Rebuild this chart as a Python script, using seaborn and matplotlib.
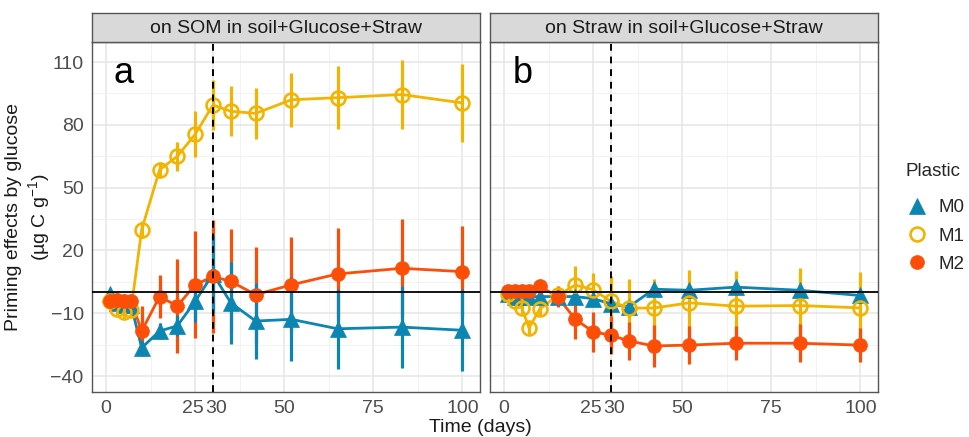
import matplotlib
matplotlib.use("Agg")
import matplotlib.pyplot as plt
import matplotlib.transforms as mtransforms
import numpy as np
import pandas as pd
import seaborn as sns
from matplotlib.lines import Line2D

# ---------------- data ----------------
days = [1, 3, 5, 7, 10, 15, 20, 25, 30, 35, 42, 52, 65, 83, 100]
plastics = ["M0", "M1", "M2"]
panel_titles = ["on SOM in soil+Glucose+Straw", "on Straw in soil+Glucose+Straw"]
panel_letters = ["a", "b"]

# panel a: priming on SOM
a_M0 = [-1, -5, -6, -6, -26.5, -18.5, -16, -4.3, 8.8, -5, -13.7, -12.9, -17.4, -16.6, -18.1]
a_M0_err = [2, 3, 3, 3, 3, 4, 5, 10, 18.5, 19.5, 18, 20, 19, 19.7, 19.6]
a_M1 = [-4, -8, -9.5, -8.5, 30, 58.5, 65, 75.5, 89.5, 86.5, 85.5, 92, 93, 94.5, 90.5]
a_M1_err = [2, 3, 3, 3, 4, 4, 7, 11, 12, 12, 12, 13, 15, 16.5, 18.5]
a_M2 = [-4, -3.5, -4, -4, -18.5, -2, -6.5, 3.6, 7.6, 5.2, -1.1, 3.6, 8.8, 11.5, 9.9]
a_M2_err = [2, 3, 3, 3, 12, 10.4, 22.5, 25.6, 27, 25, 23, 23, 22, 23.4, 21.7]

# panel b: priming on straw
b_M0 = [-1, -2, -2, -2, -2, -2, -2, -3, -5.5, -7, 1.5, 1, 2.5, 1, -1.5]
b_M0_err = [1, 1, 1, 1, 1, 2, 2, 2, 2, 3, 2, 2, 2, 2, 2]
b_M1 = [-1, -4, -7.5, -17, -8, -1.5, 3.5, 1.3, -4.3, -7.5, -7.5, -5, -6.6, -6.3, -7.4]
b_M1_err = [1, 2, 3, 3, 3, 4, 9, 8, 12, 14, 14, 15.8, 17, 17.8, 17.3]
b_M2 = [0.5, 0.5, 0.5, 0.5, 3, -2, -12.9, -18.8, -20.5, -23.2, -25.6, -25.2, -24.3, -24.3, -25.2]
b_M2_err = [1, 1, 1, 1, 2, 5, 9.5, 9.5, 9, 9, 10, 9, 8, 9, 8]

x_ticks = [0, 25, 30, 50, 75, 100]
x_minor = [12.5, 37.5, 62.5, 87.5]
y_ticks = [-40, -10, 20, 50, 80, 110]
y_minor = [-25, 5, 35, 65, 95]

rows = []
for panel, series in (("a", {"M0": (a_M0, a_M0_err), "M1": (a_M1, a_M1_err), "M2": (a_M2, a_M2_err)}),
                      ("b", {"M0": (b_M0, b_M0_err), "M1": (b_M1, b_M1_err), "M2": (b_M2, b_M2_err)})):
    for p, (vals, errs) in series.items():
        for d, v, e in zip(days, vals, errs):
            rows.append({"panel": panel, "Plastic": p, "day": d, "value": v, "err": e})
df = pd.DataFrame(rows)

# ---------------- style ----------------
sns.set_theme(style="white")
plt.rcParams["font.family"] = ["Liberation Sans", "DejaVu Sans"]
plt.rcParams["mathtext.default"] = "regular"

colors = {"M0": "#0B85B2", "M1": "#F2B400", "M2": "#FC4E07"}
marker = {"M0": "^", "M1": "o", "M2": "o"}
msize = {"M0": 11.5, "M1": 10, "M2": 10}
face = {"M0": colors["M0"], "M1": "none", "M2": colors["M2"]}
bar_order = ["M1", "M2", "M0"]

W, H = 969, 437
fig = plt.figure(figsize=(W / 100, H / 100), dpi=100)

panel_px = [(92, 480), (490, 878)]
top_px, bot_px = 42, 392
axes = []
for i, (l, r) in enumerate(panel_px):
    ax = fig.add_axes([l / W, (H - bot_px) / H, (r - l) / W, (bot_px - top_px) / H])
    axes.append(ax)
    sax = fig.add_axes([l / W, (H - top_px) / H, (r - l) / W, 29 / H])
    sax.set_facecolor("#D9D9D9")
    sax.set_xticks([]); sax.set_yticks([])
    for s in sax.spines.values():
        s.set_color("#555555"); s.set_linewidth(1.0)
    sax.text(0.5, 0.45, panel_titles[i], ha="center", va="center", fontsize=14,
             color="#1A1A1A", transform=sax.transAxes)

for ax, pan, letter in zip(axes, ["a", "b"], panel_letters):
    sub = df[df.panel == pan]
    # error bars
    for k, p in enumerate(bar_order):
        s = sub[sub.Plastic == p]
        ax.vlines(s["day"], s["value"] - s["err"], s["value"] + s["err"],
                  color=colors[p], lw=2.3, zorder=2 + 0.1 * k)
    # lines
    for p in plastics:
        s = sub[sub.Plastic == p]
        sns.lineplot(data=s, x="day", y="value", ax=ax, color=colors[p], lw=2.0,
                     errorbar=None, zorder=3, legend=False)
    # points
    for p in plastics:
        s = sub[sub.Plastic == p]
        sns.lineplot(data=s, x="day", y="value", ax=ax, color=colors[p], linestyle="none",
                     marker=marker[p], markersize=msize[p], markerfacecolor=face[p],
                     markeredgecolor=colors[p], markeredgewidth=1.9 if p == "M1" else 0.5,
                     errorbar=None, zorder=4, legend=False)
    ax.axhline(0, color="black", lw=1.3, zorder=5)
    ax.axvline(30, color="black", lw=1.4, ls=(0, (3.5, 3)), zorder=6)

    ax.set_xlim(-3.95, 104.95)
    ax.set_ylim(-47.6, 119.6)
    ax.set_xticks(x_ticks)
    ax.set_xticklabels([str(t) for t in x_ticks])
    ax.set_xticks(x_minor, minor=True)
    ax.set_yticks(y_ticks)
    ax.set_yticklabels(["\u2212" + str(-t) if t < 0 else str(t) for t in y_ticks])
    ax.set_yticks(y_minor, minor=True)
    ax.grid(which="major", color="#E6E6E6", lw=1.1, zorder=0)
    ax.grid(which="minor", color="#F0F0F0", lw=0.6, zorder=0)
    ax.set_axisbelow(True)
    ax.tick_params(which="major", length=4, width=1, color="#444444",
                   labelsize=14, labelcolor="#4D4D4D", pad=2)
    ax.tick_params(which="minor", length=0)
    for s in ax.spines.values():
        s.set_color("#555555"); s.set_linewidth(1.0)
    ax.set_xlabel(""); ax.set_ylabel("")
    ax.text(0.055 if letter == "a" else 0.058, 0.883, letter, transform=ax.transAxes,
            fontsize=26, va="baseline", ha="left", color="black")
    # keep the crowded "25" and "30" labels side by side, as in the original
    for lab in ax.get_xticklabels():
        if lab.get_text() == "25":
            lab.set_transform(lab.get_transform() + mtransforms.ScaledTranslation(-2 / 100, 0, fig.dpi_scale_trans))
        elif lab.get_text() == "30":
            lab.set_transform(lab.get_transform() + mtransforms.ScaledTranslation(3 / 100, 0, fig.dpi_scale_trans))

axes[1].tick_params(axis="y", left=False, labelleft=False)

axes[0].set_ylabel("Priming effects by glucose\n(\u00b5g C g$^{-1}$)", fontsize=14,
                   color="#1A1A1A", multialignment="center", linespacing=1.2)
axes[0].yaxis.set_label_coords(-0.104, 0.5)

fig.text(480 / W, 0.5 / H, "Time (days)", ha="center", va="bottom", fontsize=14, color="#1A1A1A")

handles = [Line2D([], [], linestyle="none", marker=marker[p], markersize=msize[p],
                  markerfacecolor=face[p], markeredgecolor=colors[p],
                  markeredgewidth=1.9 if p == "M1" else 0.5) for p in plastics]
leg = fig.legend(handles, plastics, title="Plastic", loc="upper left",
                 bbox_to_anchor=(894 / W, (H - 152) / H), frameon=False, fontsize=13.5,
                 title_fontsize=13.5, handlelength=1.2, handletextpad=0.55, labelspacing=0.6,
                 borderpad=0.6, borderaxespad=0, alignment="left")
# a little more room between the legend title and its entries
leg._legend_box.sep = 0.6 * 13.5 + 5.5

fig.savefig("out.png", dpi=100)
